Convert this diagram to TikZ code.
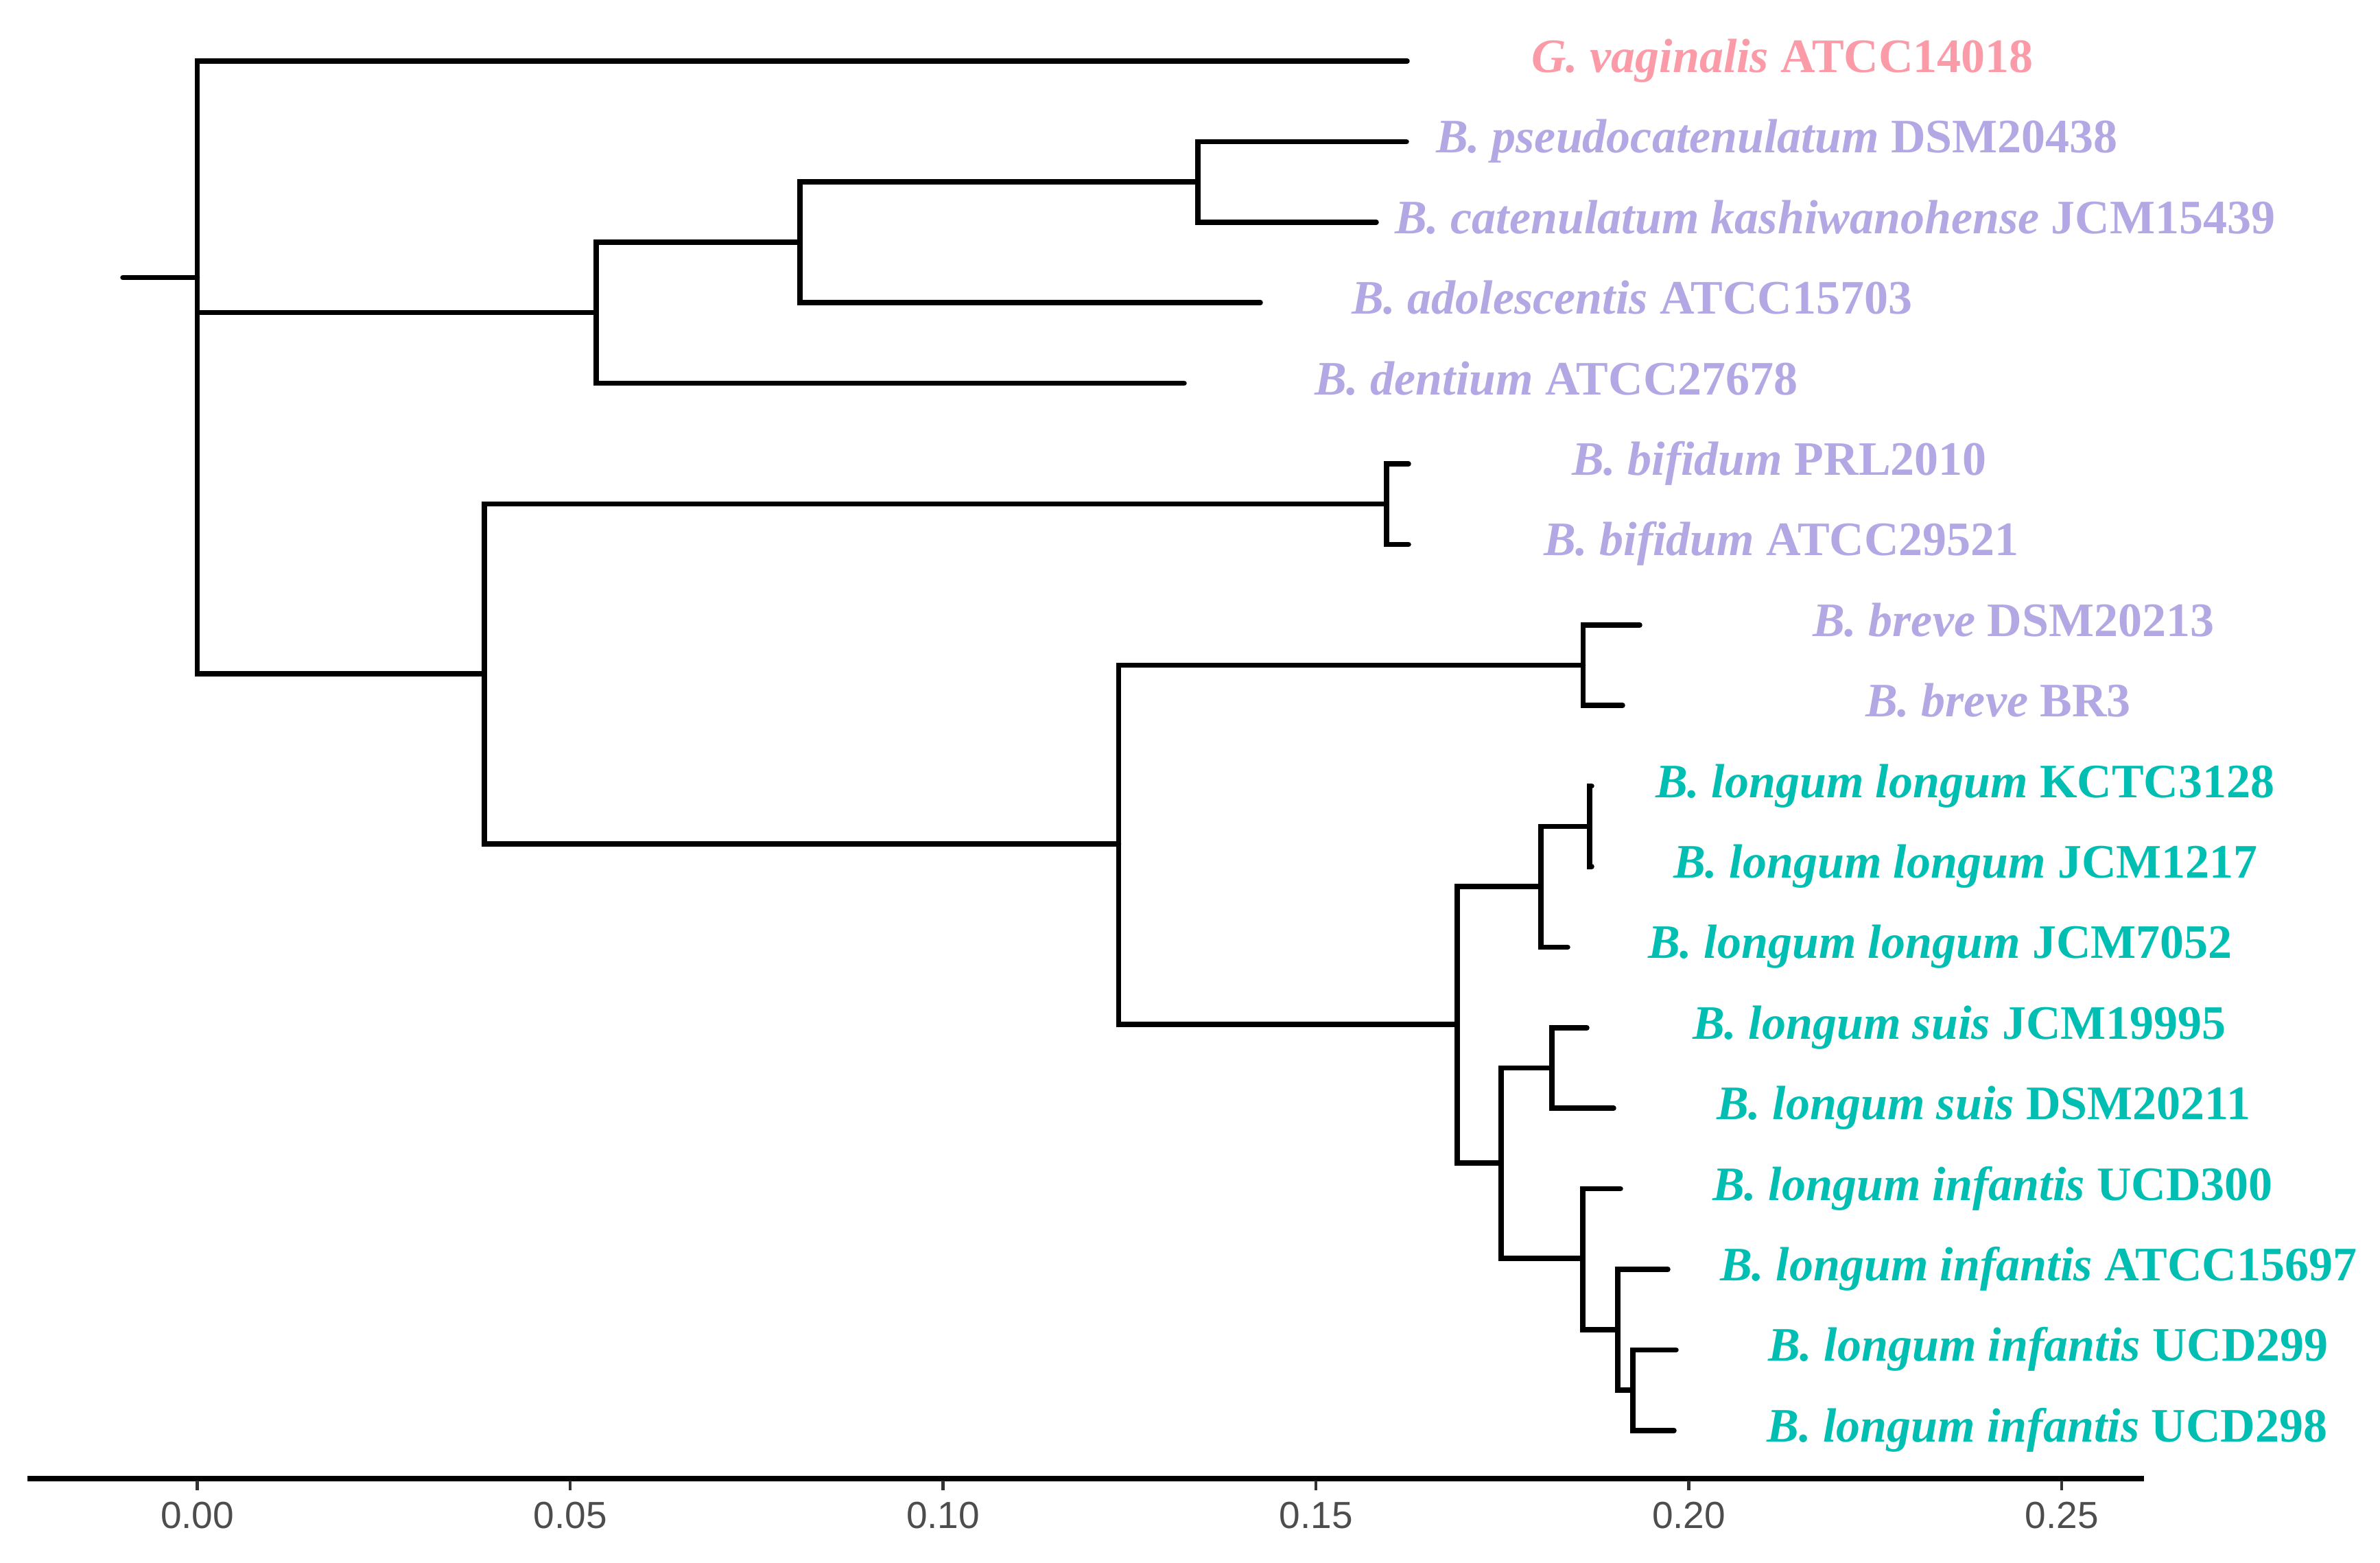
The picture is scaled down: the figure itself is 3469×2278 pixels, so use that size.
\documentclass[tikz,border=0pt]{standalone}
\usepackage{fontspec}
\setmainfont{Liberation Serif}
\newfontfamily\axisfont{Liberation Sans}
\definecolor{pinkc}{HTML}{FC9BA8}
\definecolor{lavc}{HTML}{B3A7E4}
\definecolor{tealc}{HTML}{00BFB2}
\definecolor{tickc}{HTML}{333333}
\definecolor{axtext}{HTML}{4D4D4D}
\tikzset{
  branch/.style={line width=1.5pt, line cap=round, line join=miter},
  lab/.style={anchor=base west, inner sep=0pt, font=\fontsize{14}{16}\selectfont\bfseries},
  axlab/.style={anchor=base, inner sep=0pt, font=\axisfont\fontsize{11}{13}\selectfont, text=axtext},
  tickmark/.style={line width=0.9pt, draw=tickc}
}
\begin{document}
\begin{tikzpicture}[x=0.2pt,y=-0.2pt]
\useasboundingbox (0,0) rectangle (3469,2278);
% tip ends
\coordinate (e1) at (2051,89);
\coordinate (e2) at (2050,206.4);
\coordinate (e3) at (2006,323.8);
\coordinate (e4) at (1837,441.2);
\coordinate (e5) at (1726,558.6);
\coordinate (e6) at (2053,676);
\coordinate (e7) at (2053,793.4);
\coordinate (e8) at (2390,910.8);
\coordinate (e9) at (2365,1028.2);
\coordinate (e10) at (2320,1145.6);
\coordinate (e11) at (2320,1263);
\coordinate (e12) at (2285,1380.4);
\coordinate (e13) at (2313,1497.8);
\coordinate (e14) at (2352,1615.2);
\coordinate (e15) at (2362,1732.6);
\coordinate (e16) at (2431,1850);
\coordinate (e17) at (2443,1967.4);
\coordinate (e18) at (2440,2084.8);
% internal nodes
\coordinate (stub) at (179,404.5);
\coordinate (root) at (287.6,404.5);
\coordinate (nA) at (869,455.5);
\coordinate (nA1) at (1166,353);
\coordinate (nA2) at (1746,265.1);
\coordinate (nB) at (706,982);
\coordinate (nC) at (2021,734.7);
\coordinate (nD) at (1630.5,1230);
\coordinate (nE) at (2307.5,969.5);
\coordinate (nF) at (2124,1493);
\coordinate (nG) at (2246,1292);
\coordinate (nG1) at (2317,1204.3);
\coordinate (nH) at (2188,1695);
\coordinate (nI) at (2262,1556.5);
\coordinate (nJ) at (2307,1834);
\coordinate (nK) at (2358,1938);
\coordinate (nL) at (2380,2026);
% branches
\draw[branch] (stub) -- (root);
\draw[branch] (root) |- (e1);
\draw[branch] (root) |- (nA);
\draw[branch] (root) |- (nB);
\draw[branch] (nA) |- (nA1);
\draw[branch] (nA) |- (e5);
\draw[branch] (nA1) |- (nA2);
\draw[branch] (nA1) |- (e4);
\draw[branch] (nA2) |- (e2);
\draw[branch] (nA2) |- (e3);
\draw[branch] (nB) |- (nC);
\draw[branch] (nB) |- (nD);
\draw[branch] (nC) |- (e6);
\draw[branch] (nC) |- (e7);
\draw[branch] (nD) |- (nE);
\draw[branch] (nD) |- (nF);
\draw[branch] (nE) |- (e8);
\draw[branch] (nE) |- (e9);
\draw[branch] (nF) |- (nG);
\draw[branch] (nF) |- (nH);
\draw[branch] (nG) |- (nG1);
\draw[branch] (nG) |- (e12);
\draw[branch] (nG1) |- (e10);
\draw[branch] (nG1) |- (e11);
\draw[branch] (nH) |- (nI);
\draw[branch] (nH) |- (nJ);
\draw[branch] (nI) |- (e13);
\draw[branch] (nI) |- (e14);
\draw[branch] (nJ) |- (e15);
\draw[branch] (nJ) |- (nK);
\draw[branch] (nK) |- (e16);
\draw[branch] (nK) |- (nL);
\draw[branch] (nL) |- (e17);
\draw[branch] (nL) |- (e18);
% labels
\node[lab, text=pinkc] (t1) at (2231,105.5) {\textit{G. vaginalis} ATCC14018};
\node[lab, text=lavc] (t2) at (2092,222.9) {\textit{B. pseudocatenulatum} DSM20438};
\node[lab, text=lavc] (t3) at (2032,340.3) {\textit{B. catenulatum kashiwanohense} JCM15439};
\node[lab, text=lavc] (t4) at (1969,457.7) {\textit{B. adolescentis} ATCC15703};
\node[lab, text=lavc] (t5) at (1915,575.1) {\textit{B. dentium} ATCC27678};
\node[lab, text=lavc] (t6) at (2290,692.5) {\textit{B. bifidum} PRL2010};
\node[lab, text=lavc] (t7) at (2249,809.9) {\textit{B. bifidum} ATCC29521};
\node[lab, text=lavc] (t8) at (2641,927.3) {\textit{B. breve} DSM20213};
\node[lab, text=lavc] (t9) at (2718,1044.7) {\textit{B. breve} BR3};
\node[lab, text=tealc] (t10) at (2412,1162.1) {\textit{B. longum longum} KCTC3128};
\node[lab, text=tealc] (t11) at (2438,1279.5) {\textit{B. longum longum} JCM1217};
\node[lab, text=tealc] (t12) at (2401,1396.9) {\textit{B. longum longum} JCM7052};
\node[lab, text=tealc] (t13) at (2466,1514.3) {\textit{B. longum suis} JCM19995};
\node[lab, text=tealc] (t14) at (2501,1631.7) {\textit{B. longum suis} DSM20211};
\node[lab, text=tealc] (t15) at (2495,1749.1) {\textit{B. longum infantis} UCD300};
\node[lab, text=tealc] (t16) at (2506,1866.5) {\textit{B. longum infantis} ATCC15697};
\node[lab, text=tealc] (t17) at (2576,1983.9) {\textit{B. longum infantis} UCD299};
\node[lab, text=tealc] (t18) at (2574.5,2101.3) {\textit{B. longum infantis} UCD298};
% axis
\coordinate (axL) at (40,2155);
\coordinate (axR) at (3125,2155);
\draw[line width=1.5pt] (axL) -- (axR);
\foreach \v/\xx [count=\i] in {0.00/287.6,0.05/831.1,0.10/1374.6,0.15/1918.1,0.20/2461.6,0.25/3005.1}{
  \coordinate (tk\i) at (\xx,2158);
  \coordinate (tb\i) at (\xx,2172);
  \draw[tickmark] (tk\i) -- (tb\i);
  \node[axlab] (al\i) at (\xx,2227) {\v};
}
\end{tikzpicture}
\end{document}
